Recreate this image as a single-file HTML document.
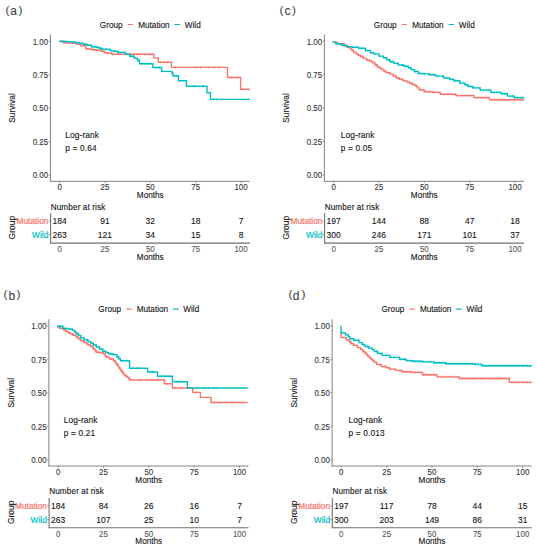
<!DOCTYPE html>
<html><head><meta charset="utf-8"><style>
html,body{margin:0;padding:0;background:#fff;width:537px;height:550px;overflow:hidden}
svg{display:block}
text{font-family:"Liberation Sans", sans-serif;stroke-width:0.1}
</style></head><body>
<svg width="537" height="550" viewBox="0 0 537 550">
<rect width="537" height="550" fill="#fff"/>
<g transform="translate(0,0)">
<text x="5.6" y="13.6" font-size="11.8" fill="#3a3a3a" stroke="#3a3a3a" style="stroke-width:0">(</text>
<text x="10.2" y="15.3" font-size="12" fill="#3a3a3a" stroke="#3a3a3a" style="stroke-width:0.05">a</text>
<text x="18.4" y="13.6" font-size="11.8" fill="#3a3a3a" stroke="#3a3a3a" style="stroke-width:0">)</text>
<text x="99.8" y="27.6" font-size="8.2" fill="#111" stroke="#111">Group</text>
<path d="M127.8,24.5H133M130.4,23.9V25.1" stroke="#F8766D" stroke-width="1.2" fill="none"/>
<text x="138.2" y="27.6" font-size="8.2" fill="#111" stroke="#111">Mutation</text>
<path d="M174.5,24.5H180.1M177.3,23.9V25.1" stroke="#00BFC4" stroke-width="1.2" fill="none"/>
<text x="184.8" y="27.6" font-size="8.2" fill="#111" stroke="#111">Wild</text>
<line x1="50.4" y1="34.5" x2="50.4" y2="181.8" stroke="#808080" stroke-width="1"/>
<line x1="50" y1="181.3" x2="250" y2="181.3" stroke="#808080" stroke-width="1"/>
<line x1="48.6" y1="41.3" x2="50.4" y2="41.3" stroke="#808080" stroke-width="0.8"/>
<text x="48.1" y="44.6" font-size="8.9" fill="#333" stroke="#333" text-anchor="end" textLength="15.37" lengthAdjust="spacingAndGlyphs">1.00</text>
<line x1="48.6" y1="74.73" x2="50.4" y2="74.73" stroke="#808080" stroke-width="0.8"/>
<text x="48.1" y="78.03" font-size="8.9" fill="#333" stroke="#333" text-anchor="end" textLength="15.37" lengthAdjust="spacingAndGlyphs">0.75</text>
<line x1="48.6" y1="108.16" x2="50.4" y2="108.16" stroke="#808080" stroke-width="0.8"/>
<text x="48.1" y="111.46" font-size="8.9" fill="#333" stroke="#333" text-anchor="end" textLength="15.37" lengthAdjust="spacingAndGlyphs">0.50</text>
<line x1="48.6" y1="141.59" x2="50.4" y2="141.59" stroke="#808080" stroke-width="0.8"/>
<text x="48.1" y="144.89" font-size="8.9" fill="#333" stroke="#333" text-anchor="end" textLength="15.37" lengthAdjust="spacingAndGlyphs">0.25</text>
<line x1="48.6" y1="175.02" x2="50.4" y2="175.02" stroke="#808080" stroke-width="0.8"/>
<text x="48.1" y="178.32" font-size="8.9" fill="#333" stroke="#333" text-anchor="end" textLength="15.37" lengthAdjust="spacingAndGlyphs">0.00</text>
<line x1="59.6" y1="181.3" x2="59.6" y2="183.2" stroke="#808080" stroke-width="0.8"/>
<text x="59.6" y="190.3" font-size="8.9" fill="#333" stroke="#333" text-anchor="middle" textLength="4.39" lengthAdjust="spacingAndGlyphs">0</text>
<line x1="104.95" y1="181.3" x2="104.95" y2="183.2" stroke="#808080" stroke-width="0.8"/>
<text x="104.95" y="190.3" font-size="8.9" fill="#333" stroke="#333" text-anchor="middle" textLength="8.78" lengthAdjust="spacingAndGlyphs">25</text>
<line x1="150.3" y1="181.3" x2="150.3" y2="183.2" stroke="#808080" stroke-width="0.8"/>
<text x="150.3" y="190.3" font-size="8.9" fill="#333" stroke="#333" text-anchor="middle" textLength="8.78" lengthAdjust="spacingAndGlyphs">50</text>
<line x1="195.65" y1="181.3" x2="195.65" y2="183.2" stroke="#808080" stroke-width="0.8"/>
<text x="195.65" y="190.3" font-size="8.9" fill="#333" stroke="#333" text-anchor="middle" textLength="8.78" lengthAdjust="spacingAndGlyphs">75</text>
<line x1="241" y1="181.3" x2="241" y2="183.2" stroke="#808080" stroke-width="0.8"/>
<text x="241" y="190.3" font-size="8.9" fill="#333" stroke="#333" text-anchor="middle" textLength="13.18" lengthAdjust="spacingAndGlyphs">100</text>
<text x="150.3" y="198.1" font-size="8.2" fill="#111" stroke="#111" text-anchor="middle">Months</text>
<text transform="translate(15.1,108) rotate(-90)" font-size="8.3" fill="#111" stroke="#111" text-anchor="middle">Survival</text>
<text x="65.3" y="138.3" font-size="8.4" fill="#111" stroke="#111" letter-spacing="0.1">Log-rank</text>
<text x="65.3" y="151.3" font-size="8.3" fill="#111" stroke="#111" letter-spacing="0.15">p = 0.64</text>
<path d="M59,41.4H63.1V42.7H67.2H69.05V43.1H70.9H73.5V43.4H76.1H76.85V44.2H77.6H80.95V45.7H84.3H85.8V48.7H87.65V49H89.5H91.75V49.8H94H96.25V50.2H98.5H101.1V51.3H103.7H104.4V52.8H107.4V53.2H110.4H111.9V54.3H153.8V57.9H158.3V62.3H171.5V67.4H227.5V77.5H240.6V89.2H250V89.2" fill="none" stroke="#F8766D" stroke-width="1.4"/>
<path d="M62,40.2V42.6M65.5,41.5V43.9M69,41.5V43.9M72.5,41.9V44.3M76,42.2V44.6M79.5,43V45.4M83,44.5V46.9M86.5,47.5V49.9M90,47.8V50.2M93.5,48.6V51M97,49V51.4M100.5,49V51.4M104,50.1V52.5M107.5,52V54.4M112.4,53.1V55.5M118.3,53.1V55.5M121.5,53.1V55.5M124.8,53.1V55.5M130.6,53.1V55.5M133.9,53.1V55.5M137.2,53.1V55.5M139.1,53.1V55.5M141.7,53.1V55.5M145,53.1V55.5M150.2,53.1V55.5M160.6,61.1V63.5M163.9,61.1V63.5M167.8,61.1V63.5M175,66.2V68.6M195.2,66.2V68.6M197.7,66.2V68.6M200.7,66.2V68.6M208.9,66.2V68.6M214.4,66.2V68.6M219.4,66.2V68.6M231.7,76.3V78.7M237.4,76.3V78.7" fill="none" stroke="#F8766D" stroke-width="0.75"/>
<path d="M59,41.4H62.35V41.4H65.7H66.8V41.8H67.9H70.5V42H73.1H75.35V42.6H77.6H79.45V43.4H81.3H83.55V44.2H85.8H87.3V45.3H88.8H91.4V46.8H94H95.85V47.2H97.7H98.85V48.3H100H101.85V49.1H103.7H106.3V49.4H108.9H110.4V50.9H111.9H114.1V51.3H116.3H117.8V52.4H125.5V53.9H126.9V54.3H128.3H129.8V56.2H134.3V58.4H137.6V60.5H139.5V63.8H152.8V67.5H161.6V71.4H171.8V73H173V75.8H178.5V80.7H186.5V86.3H207V92.7H210.5V99.4H250V99.4" fill="none" stroke="#00BFC4" stroke-width="1.4"/>
<path d="M61,40.2V42.6M64,40.2V42.6M67,40.6V43M70,40.6V43M73,40.8V43.2M76,41.4V43.8M79,41.4V43.8M82,42.2V44.6M85,43V45.4M88,44.1V46.5M91,44.1V46.5M94,45.6V48M97,46V48.4M100,47.1V49.5M103,47.9V50.3M106,47.9V50.3M109,48.2V50.6M112,49.7V52.1M115,50.1V52.5M118,51.2V53.6M121,51.2V53.6M124,51.2V53.6M127,53.1V55.5M130,55V57.4M133,55V57.4M136,57.2V59.6M139,59.3V61.7M141.7,62.6V65M145,62.6V65M148.2,62.6V65M151.5,62.6V65M156,66.3V68.7M159.3,66.3V68.7M173.4,74.6V77M177,74.6V77M194.3,85.1V87.5M203.5,85.1V87.5M213.6,98.2V100.6M216.6,98.2V100.6" fill="none" stroke="#00BFC4" stroke-width="0.75"/>
<text x="50.7" y="209.8" font-size="8.2" fill="#111" stroke="#111" letter-spacing="0.11">Number at risk</text>
<line x1="50.6" y1="213.2" x2="50.6" y2="243.5" stroke="#707070" stroke-width="1.1"/>
<line x1="50.2" y1="243.1" x2="250" y2="243.1" stroke="#707070" stroke-width="1.1"/>
<line x1="48.8" y1="221.2" x2="50.6" y2="221.2" stroke="#777" stroke-width="0.8"/>
<line x1="48.8" y1="234.9" x2="50.6" y2="234.9" stroke="#777" stroke-width="0.8"/>
<text x="48.4" y="224.4" font-size="8.3" fill="#F8766D" stroke="#F8766D" style="stroke-width:0.22" text-anchor="end">Mutation</text>
<text x="48.4" y="238.1" font-size="8.4" fill="#00BFC4" stroke="#00BFC4" style="stroke-width:0.22" text-anchor="end">Wild</text>
<text x="59.6" y="224.4" font-size="8.5" fill="#111" stroke="#111" text-anchor="middle">184</text>
<text x="59.6" y="238.1" font-size="8.5" fill="#111" stroke="#111" text-anchor="middle">263</text>
<text x="59.6" y="252" font-size="8.9" fill="#555" stroke="#555" text-anchor="middle" textLength="4.39" lengthAdjust="spacingAndGlyphs">0</text>
<text x="104.95" y="224.4" font-size="8.5" fill="#111" stroke="#111" text-anchor="middle">91</text>
<text x="104.95" y="238.1" font-size="8.5" fill="#111" stroke="#111" text-anchor="middle">121</text>
<text x="104.95" y="252" font-size="8.9" fill="#555" stroke="#555" text-anchor="middle" textLength="8.78" lengthAdjust="spacingAndGlyphs">25</text>
<text x="150.3" y="224.4" font-size="8.5" fill="#111" stroke="#111" text-anchor="middle">32</text>
<text x="150.3" y="238.1" font-size="8.5" fill="#111" stroke="#111" text-anchor="middle">34</text>
<text x="150.3" y="252" font-size="8.9" fill="#555" stroke="#555" text-anchor="middle" textLength="8.78" lengthAdjust="spacingAndGlyphs">50</text>
<text x="195.65" y="224.4" font-size="8.5" fill="#111" stroke="#111" text-anchor="middle">18</text>
<text x="195.65" y="238.1" font-size="8.5" fill="#111" stroke="#111" text-anchor="middle">15</text>
<text x="195.65" y="252" font-size="8.9" fill="#555" stroke="#555" text-anchor="middle" textLength="8.78" lengthAdjust="spacingAndGlyphs">75</text>
<text x="241" y="224.4" font-size="8.5" fill="#111" stroke="#111" text-anchor="middle">7</text>
<text x="241" y="238.1" font-size="8.5" fill="#111" stroke="#111" text-anchor="middle">8</text>
<text x="241" y="252" font-size="8.9" fill="#555" stroke="#555" text-anchor="middle" textLength="13.18" lengthAdjust="spacingAndGlyphs">100</text>
<text x="150.3" y="259.8" font-size="8.2" fill="#111" stroke="#111" text-anchor="middle">Months</text>
<text transform="translate(15.2,227.6) rotate(-90)" font-size="8.5" fill="#111" stroke="#111" text-anchor="middle">Group</text>
</g>
<g transform="translate(274,0)">
<text x="5.6" y="13.6" font-size="11.8" fill="#3a3a3a" stroke="#3a3a3a" style="stroke-width:0">(</text>
<text x="10.5" y="15.3" font-size="12" fill="#3a3a3a" stroke="#3a3a3a" style="stroke-width:0.05">c</text>
<text x="18.1" y="13.6" font-size="11.8" fill="#3a3a3a" stroke="#3a3a3a" style="stroke-width:0">)</text>
<text x="99.8" y="27.6" font-size="8.2" fill="#111" stroke="#111">Group</text>
<path d="M127.8,24.5H133M130.4,23.9V25.1" stroke="#F8766D" stroke-width="1.2" fill="none"/>
<text x="138.2" y="27.6" font-size="8.2" fill="#111" stroke="#111">Mutation</text>
<path d="M174.5,24.5H180.1M177.3,23.9V25.1" stroke="#00BFC4" stroke-width="1.2" fill="none"/>
<text x="184.8" y="27.6" font-size="8.2" fill="#111" stroke="#111">Wild</text>
<line x1="50.4" y1="34.5" x2="50.4" y2="181.8" stroke="#808080" stroke-width="1"/>
<line x1="50" y1="181.3" x2="250" y2="181.3" stroke="#808080" stroke-width="1"/>
<line x1="48.6" y1="41.3" x2="50.4" y2="41.3" stroke="#808080" stroke-width="0.8"/>
<text x="48.1" y="44.6" font-size="8.9" fill="#333" stroke="#333" text-anchor="end" textLength="15.37" lengthAdjust="spacingAndGlyphs">1.00</text>
<line x1="48.6" y1="74.73" x2="50.4" y2="74.73" stroke="#808080" stroke-width="0.8"/>
<text x="48.1" y="78.03" font-size="8.9" fill="#333" stroke="#333" text-anchor="end" textLength="15.37" lengthAdjust="spacingAndGlyphs">0.75</text>
<line x1="48.6" y1="108.16" x2="50.4" y2="108.16" stroke="#808080" stroke-width="0.8"/>
<text x="48.1" y="111.46" font-size="8.9" fill="#333" stroke="#333" text-anchor="end" textLength="15.37" lengthAdjust="spacingAndGlyphs">0.50</text>
<line x1="48.6" y1="141.59" x2="50.4" y2="141.59" stroke="#808080" stroke-width="0.8"/>
<text x="48.1" y="144.89" font-size="8.9" fill="#333" stroke="#333" text-anchor="end" textLength="15.37" lengthAdjust="spacingAndGlyphs">0.25</text>
<line x1="48.6" y1="175.02" x2="50.4" y2="175.02" stroke="#808080" stroke-width="0.8"/>
<text x="48.1" y="178.32" font-size="8.9" fill="#333" stroke="#333" text-anchor="end" textLength="15.37" lengthAdjust="spacingAndGlyphs">0.00</text>
<line x1="59.6" y1="181.3" x2="59.6" y2="183.2" stroke="#808080" stroke-width="0.8"/>
<text x="59.6" y="190.3" font-size="8.9" fill="#333" stroke="#333" text-anchor="middle" textLength="4.39" lengthAdjust="spacingAndGlyphs">0</text>
<line x1="104.95" y1="181.3" x2="104.95" y2="183.2" stroke="#808080" stroke-width="0.8"/>
<text x="104.95" y="190.3" font-size="8.9" fill="#333" stroke="#333" text-anchor="middle" textLength="8.78" lengthAdjust="spacingAndGlyphs">25</text>
<line x1="150.3" y1="181.3" x2="150.3" y2="183.2" stroke="#808080" stroke-width="0.8"/>
<text x="150.3" y="190.3" font-size="8.9" fill="#333" stroke="#333" text-anchor="middle" textLength="8.78" lengthAdjust="spacingAndGlyphs">50</text>
<line x1="195.65" y1="181.3" x2="195.65" y2="183.2" stroke="#808080" stroke-width="0.8"/>
<text x="195.65" y="190.3" font-size="8.9" fill="#333" stroke="#333" text-anchor="middle" textLength="8.78" lengthAdjust="spacingAndGlyphs">75</text>
<line x1="241" y1="181.3" x2="241" y2="183.2" stroke="#808080" stroke-width="0.8"/>
<text x="241" y="190.3" font-size="8.9" fill="#333" stroke="#333" text-anchor="middle" textLength="13.18" lengthAdjust="spacingAndGlyphs">100</text>
<text x="150.3" y="198.1" font-size="8.2" fill="#111" stroke="#111" text-anchor="middle">Months</text>
<text transform="translate(15.1,108) rotate(-90)" font-size="8.3" fill="#111" stroke="#111" text-anchor="middle">Survival</text>
<text x="66.8" y="138.3" font-size="8.4" fill="#111" stroke="#111" letter-spacing="0.1">Log-rank</text>
<text x="66.8" y="151.3" font-size="8.3" fill="#111" stroke="#111" letter-spacing="0.15">p = 0.05</text>
<path d="M58.5,42.1H63.5V43.8H68.5H70.17V45.5H73.52V47.2H75.2H76.05V48.85H77.75V50.5H78.6H79.7V52.2H81.9V53.9H83H84.12V55.3H86.38V56.7H87.5H89.17V58.35H92.52V60H94.2H95.6V61.4H98.4V62.8H99.8H100.93V64.75H103.18V66.7H104.3H105.4V68.1H107.6V69.5H108.7H109.85V71.5H111H112.62V72.8H115.88V74.1H117.5H119.12V76.05H122.38V78H124H125.65V79.3H128.95V80.6H130.6H132.23V81.9H135.48V83.2H137.1H138.4V84.55H141V85.9H142.3H143.28V87.85H145.22V89.8H146.2H150.1V91.7H154H158.6V92.4H163.2H166.45V94.3H169.7H182V95.6H199.8V97.6H215.5V99.8H249.8V99.8" fill="none" stroke="#F8766D" stroke-width="1.4"/>
<path d="M66,42.6V45M70.5,44.3V46.7M75,46V48.4M79.5,49.3V51.7M84,52.7V55.1M88.5,55.5V57.9M93,58.8V61.2M97.5,60.2V62.6M102,63.55V65.95M106.5,66.9V69.3M111,70.3V72.7M115.5,71.6V74M120,74.85V77.25M124.5,76.8V79.2M129,79.4V81.8M133.5,80.7V83.1M138,82V84.4M142.5,84.7V87.1M147,88.6V91M151.5,90.5V92.9M156,90.5V92.9M160.5,91.2V93.6M165,91.2V93.6M169.5,93.1V95.5M174,93.1V95.5M176,93.1V95.5M178.6,93.1V95.5M181.2,93.1V95.5M183.8,94.4V96.8M186.4,94.4V96.8M189,94.4V96.8M191.6,94.4V96.8M194.2,94.4V96.8M196.8,94.4V96.8M199.4,94.4V96.8M202,96.4V98.8M204.6,96.4V98.8M207.2,96.4V98.8M209.8,96.4V98.8M212.4,96.4V98.8M215,96.4V98.8M217.6,98.6V101M220.2,98.6V101M222.8,98.6V101M225.4,98.6V101M228,98.6V101M230.6,98.6V101M233.2,98.6V101M235.8,98.6V101M238.4,98.6V101M241,98.6V101M243.6,98.6V101M246.2,98.6V101M248.8,98.6V101" fill="none" stroke="#F8766D" stroke-width="0.75"/>
<path d="M58.5,42.1H61.85V43.8H65.2H67.42V45.2H71.88V46.6H74.1H78V47.2H81.9H84.7V48.3H87.5H91.4V50.5H95.3H96.45V52.8H97.6H99.8V53.9H102H104.8V56.1H107.6H109.3V57.8H111H112.62V59.75H115.88V61.7H117.5H119.78V63.35H124.33V65H126.6H129.9V66.3H133.2H134.5V67.95H137.1V69.6H138.4H140.35V71.55H144.25V73.5H146.2H149.45V73.9H152.7H155.3V74.8H157.9H161.85V76.1H165.8H169.7V78H173.6H175.7V79.35H179.9V80.7H182H185.7V83.1H189.4H190.9V84.75H193.9V86.4H195.4H198.75V87.9H202.1H206.2V90.1H210.3H217V92.4H223.7H227.4V93.8H231.1H233.35V96.1H235.6H240.1V97.6H244.6H249.8V98.2" fill="none" stroke="#00BFC4" stroke-width="1.4"/>
<path d="M65,42.6V45M69.5,44V46.4M74,45.4V47.8M78.5,46V48.4M83,46V48.4M87.5,47.1V49.5M92,49.3V51.7M96.5,51.6V54M101,52.7V55.1M105.5,54.9V57.3M110,56.6V59M114.5,58.55V60.95M119,60.5V62.9M123.5,62.15V64.55M128,63.8V66.2M132.5,65.1V67.5M137,66.75V69.15M141.5,70.35V72.75M146,72.3V74.7M150.5,72.7V75.1M155,72.7V75.1M159.5,73.6V76M164,74.9V77.3M168.5,74.9V77.3M173,76.8V79.2M176,78.15V80.55M178.6,78.15V80.55M181.2,79.5V81.9M183.8,79.5V81.9M186.4,81.9V84.3M189,81.9V84.3M191.6,83.55V85.95M194.2,85.2V87.6M196.8,85.2V87.6M199.4,86.7V89.1M202,86.7V89.1M204.6,86.7V89.1M207.2,88.9V91.3M209.8,88.9V91.3M212.4,88.9V91.3M215,88.9V91.3M217.6,91.2V93.6M220.2,91.2V93.6M222.8,91.2V93.6M225.4,91.2V93.6M228,92.6V95M230.6,92.6V95M233.2,92.6V95M235.8,94.9V97.3M238.4,94.9V97.3M241,96.4V98.8M243.6,96.4V98.8M246.2,96.4V98.8M248.8,96.4V98.8" fill="none" stroke="#00BFC4" stroke-width="0.75"/>
<text x="50.7" y="209.8" font-size="8.2" fill="#111" stroke="#111" letter-spacing="0.11">Number at risk</text>
<line x1="50.6" y1="213.2" x2="50.6" y2="243.5" stroke="#707070" stroke-width="1.1"/>
<line x1="50.2" y1="243.1" x2="250" y2="243.1" stroke="#707070" stroke-width="1.1"/>
<line x1="48.8" y1="221.2" x2="50.6" y2="221.2" stroke="#777" stroke-width="0.8"/>
<line x1="48.8" y1="234.9" x2="50.6" y2="234.9" stroke="#777" stroke-width="0.8"/>
<text x="48.4" y="224.4" font-size="8.3" fill="#F8766D" stroke="#F8766D" style="stroke-width:0.22" text-anchor="end">Mutation</text>
<text x="48.4" y="238.1" font-size="8.4" fill="#00BFC4" stroke="#00BFC4" style="stroke-width:0.22" text-anchor="end">Wild</text>
<text x="59.6" y="224.4" font-size="8.5" fill="#111" stroke="#111" text-anchor="middle">197</text>
<text x="59.6" y="238.1" font-size="8.5" fill="#111" stroke="#111" text-anchor="middle">300</text>
<text x="59.6" y="252" font-size="8.9" fill="#555" stroke="#555" text-anchor="middle" textLength="4.39" lengthAdjust="spacingAndGlyphs">0</text>
<text x="104.95" y="224.4" font-size="8.5" fill="#111" stroke="#111" text-anchor="middle">144</text>
<text x="104.95" y="238.1" font-size="8.5" fill="#111" stroke="#111" text-anchor="middle">246</text>
<text x="104.95" y="252" font-size="8.9" fill="#555" stroke="#555" text-anchor="middle" textLength="8.78" lengthAdjust="spacingAndGlyphs">25</text>
<text x="150.3" y="224.4" font-size="8.5" fill="#111" stroke="#111" text-anchor="middle">88</text>
<text x="150.3" y="238.1" font-size="8.5" fill="#111" stroke="#111" text-anchor="middle">171</text>
<text x="150.3" y="252" font-size="8.9" fill="#555" stroke="#555" text-anchor="middle" textLength="8.78" lengthAdjust="spacingAndGlyphs">50</text>
<text x="195.65" y="224.4" font-size="8.5" fill="#111" stroke="#111" text-anchor="middle">47</text>
<text x="195.65" y="238.1" font-size="8.5" fill="#111" stroke="#111" text-anchor="middle">101</text>
<text x="195.65" y="252" font-size="8.9" fill="#555" stroke="#555" text-anchor="middle" textLength="8.78" lengthAdjust="spacingAndGlyphs">75</text>
<text x="241" y="224.4" font-size="8.5" fill="#111" stroke="#111" text-anchor="middle">18</text>
<text x="241" y="238.1" font-size="8.5" fill="#111" stroke="#111" text-anchor="middle">37</text>
<text x="241" y="252" font-size="8.9" fill="#555" stroke="#555" text-anchor="middle" textLength="13.18" lengthAdjust="spacingAndGlyphs">100</text>
<text x="150.3" y="259.8" font-size="8.2" fill="#111" stroke="#111" text-anchor="middle">Months</text>
<text transform="translate(15.2,227.6) rotate(-90)" font-size="8.5" fill="#111" stroke="#111" text-anchor="middle">Group</text>
</g>
<g transform="translate(-1.5,284.7)">
<text x="5" y="13.6" font-size="11.8" fill="#3a3a3a" stroke="#3a3a3a" style="stroke-width:0">(</text>
<text x="10" y="15.3" font-size="12" fill="#3a3a3a" stroke="#3a3a3a" style="stroke-width:0.05">b</text>
<text x="18.1" y="13.6" font-size="11.8" fill="#3a3a3a" stroke="#3a3a3a" style="stroke-width:0">)</text>
<text x="99.8" y="27.6" font-size="8.2" fill="#111" stroke="#111">Group</text>
<path d="M127.8,24.5H133M130.4,23.9V25.1" stroke="#F8766D" stroke-width="1.2" fill="none"/>
<text x="138.2" y="27.6" font-size="8.2" fill="#111" stroke="#111">Mutation</text>
<path d="M174.5,24.5H180.1M177.3,23.9V25.1" stroke="#00BFC4" stroke-width="1.2" fill="none"/>
<text x="184.8" y="27.6" font-size="8.2" fill="#111" stroke="#111">Wild</text>
<line x1="50.4" y1="34.5" x2="50.4" y2="181.8" stroke="#808080" stroke-width="1"/>
<line x1="50" y1="181.3" x2="250" y2="181.3" stroke="#808080" stroke-width="1"/>
<line x1="48.6" y1="41.3" x2="50.4" y2="41.3" stroke="#808080" stroke-width="0.8"/>
<text x="48.1" y="44.6" font-size="8.9" fill="#333" stroke="#333" text-anchor="end" textLength="15.37" lengthAdjust="spacingAndGlyphs">1.00</text>
<line x1="48.6" y1="74.73" x2="50.4" y2="74.73" stroke="#808080" stroke-width="0.8"/>
<text x="48.1" y="78.03" font-size="8.9" fill="#333" stroke="#333" text-anchor="end" textLength="15.37" lengthAdjust="spacingAndGlyphs">0.75</text>
<line x1="48.6" y1="108.16" x2="50.4" y2="108.16" stroke="#808080" stroke-width="0.8"/>
<text x="48.1" y="111.46" font-size="8.9" fill="#333" stroke="#333" text-anchor="end" textLength="15.37" lengthAdjust="spacingAndGlyphs">0.50</text>
<line x1="48.6" y1="141.59" x2="50.4" y2="141.59" stroke="#808080" stroke-width="0.8"/>
<text x="48.1" y="144.89" font-size="8.9" fill="#333" stroke="#333" text-anchor="end" textLength="15.37" lengthAdjust="spacingAndGlyphs">0.25</text>
<line x1="48.6" y1="175.02" x2="50.4" y2="175.02" stroke="#808080" stroke-width="0.8"/>
<text x="48.1" y="178.32" font-size="8.9" fill="#333" stroke="#333" text-anchor="end" textLength="15.37" lengthAdjust="spacingAndGlyphs">0.00</text>
<line x1="59.6" y1="181.3" x2="59.6" y2="183.2" stroke="#808080" stroke-width="0.8"/>
<text x="59.6" y="190.3" font-size="8.9" fill="#333" stroke="#333" text-anchor="middle" textLength="4.39" lengthAdjust="spacingAndGlyphs">0</text>
<line x1="104.95" y1="181.3" x2="104.95" y2="183.2" stroke="#808080" stroke-width="0.8"/>
<text x="104.95" y="190.3" font-size="8.9" fill="#333" stroke="#333" text-anchor="middle" textLength="8.78" lengthAdjust="spacingAndGlyphs">25</text>
<line x1="150.3" y1="181.3" x2="150.3" y2="183.2" stroke="#808080" stroke-width="0.8"/>
<text x="150.3" y="190.3" font-size="8.9" fill="#333" stroke="#333" text-anchor="middle" textLength="8.78" lengthAdjust="spacingAndGlyphs">50</text>
<line x1="195.65" y1="181.3" x2="195.65" y2="183.2" stroke="#808080" stroke-width="0.8"/>
<text x="195.65" y="190.3" font-size="8.9" fill="#333" stroke="#333" text-anchor="middle" textLength="8.78" lengthAdjust="spacingAndGlyphs">75</text>
<line x1="241" y1="181.3" x2="241" y2="183.2" stroke="#808080" stroke-width="0.8"/>
<text x="241" y="190.3" font-size="8.9" fill="#333" stroke="#333" text-anchor="middle" textLength="13.18" lengthAdjust="spacingAndGlyphs">100</text>
<text x="150.3" y="198.1" font-size="8.2" fill="#111" stroke="#111" text-anchor="middle">Months</text>
<text transform="translate(15.1,108) rotate(-90)" font-size="8.3" fill="#111" stroke="#111" text-anchor="middle">Survival</text>
<text x="65.3" y="138.3" font-size="8.4" fill="#111" stroke="#111" letter-spacing="0.1">Log-rank</text>
<text x="65.3" y="151.3" font-size="8.3" fill="#111" stroke="#111" letter-spacing="0.15">p = 0.21</text>
<path d="M58.5,42.4H61.1V43.5H63.7H64.83V45H67.08V46.5H68.2H69.3V47.8H71.5V49.1H72.6H74.5V50.6H76.4H77.33V52.05H79.17V53.5H80.1H81.6V55.8H83.1H84.95V57.6H86.8H87.72V58.95H89.58V60.3H90.5H92.1V61.5H93.7H94.26V63.03H95.39V64.55H96.51V66.08H97.64V67.6H98.2H101V67.9H103.8H104.9V69.3H106H106.58V70.95H107.72V72.6H108.3H111.05V74.3H113.8H114.95V76H116.1H116.65V77.5H117.75V79H118.85V80.5H119.4H119.83V81.9H120.67V83.3H121.53V84.7H122.38V86.1H122.8H123.38V87.5H124.55V88.9H125.72V90.3H126.3H127.1V91.55H128.7V92.8H129.5H130.25V94.05H131.75V95.3H132.5H165.9V99.1H173.9V103.3H194.2V107.7H201.9V112.7H212.5V117.8H249.1V117.8" fill="none" stroke="#F8766D" stroke-width="1.4"/>
<path d="M61.5,42.3V44.7M64.5,42.3V44.7M67.5,45.3V47.7M70.5,46.6V49M73.5,47.9V50.3M76.5,49.4V51.8M79.5,52.3V54.7M82.5,54.6V57M85.5,56.4V58.8M88.5,57.75V60.15M91.5,59.1V61.5M94.5,61.83V64.23M97.5,64.88V67.28M100.5,66.4V68.8M103.5,66.7V69.1M106.5,68.1V70.5M109.5,71.4V73.8M112.5,73.1V75.5M115.5,74.8V77.2M118.5,77.8V80.2M121.5,82.1V84.5M124.5,86.3V88.7M127.5,90.35V92.75M130.5,92.85V95.25M141.5,94.1V96.5M147.5,94.1V96.5M153.5,94.1V96.5M159.5,94.1V96.5M168.5,97.9V100.3M176.5,102.1V104.5M182.5,102.1V104.5M188.5,102.1V104.5M197.5,106.5V108.9M215.5,116.6V119M221.5,116.6V119M227.5,116.6V119M233.5,116.6V119" fill="none" stroke="#F8766D" stroke-width="0.75"/>
<path d="M58.5,41.3H60.7V41.6H62.9H64.4V43.5H65.9H67.4V43.9H68.9H70.75V44.6H72.6H74.1V45.7H75.6H76.15V47H77.25V48.3H77.8H78.55V49.6H80.05V50.9H80.8H82.3V53.2H83.8H85.65V55H87.5H89.4V56.9H91.3H92.47V58.6H94.83V60.3H96H97.67V62.3H101.03V64.3H102.7H104.35V66.5H106H107.4V67.9H110.2V69.3H111.6H114.4V69.9H117.2H118.3V72.1H119.4H120.25V74.05H121.95V76H122.8H131.1V83.6H149.1V87.3H159V91.6H173.9V97.1H188.9V103.3H249.1V103.3" fill="none" stroke="#00BFC4" stroke-width="1.4"/>
<path d="M61.5,40.4V42.8M64.5,42.3V44.7M67.5,42.7V45.1M70.5,42.7V45.1M73.5,43.4V45.8M76.5,45.8V48.2M79.5,48.4V50.8M82.5,52V54.4M85.5,52V54.4M88.5,53.8V56.2M91.5,55.7V58.1M94.5,57.4V59.8M97.5,59.1V61.5M100.5,61.1V63.5M103.5,63.1V65.5M106.5,65.3V67.7M109.5,66.7V69.1M112.5,68.1V70.5M115.5,68.7V71.1M118.5,70.9V73.3M121.5,72.85V75.25M124.5,74.8V77.2M127.5,74.8V77.2M134.5,82.4V84.8M138.5,82.4V84.8M151.5,86.1V88.5M154.5,86.1V88.5M162.5,90.4V92.8M167.5,90.4V92.8M171.5,90.4V92.8M178.5,95.9V98.3M181.5,95.9V98.3M184.5,95.9V98.3M198.5,102.1V104.5M205.5,102.1V104.5M210.5,102.1V104.5M214.5,102.1V104.5M217.5,102.1V104.5" fill="none" stroke="#00BFC4" stroke-width="0.75"/>
<text x="50.7" y="209.8" font-size="8.2" fill="#111" stroke="#111" letter-spacing="0.11">Number at risk</text>
<line x1="50.6" y1="213.2" x2="50.6" y2="243.5" stroke="#707070" stroke-width="1.1"/>
<line x1="50.2" y1="243.1" x2="250" y2="243.1" stroke="#707070" stroke-width="1.1"/>
<line x1="48.8" y1="221.2" x2="50.6" y2="221.2" stroke="#777" stroke-width="0.8"/>
<line x1="48.8" y1="234.9" x2="50.6" y2="234.9" stroke="#777" stroke-width="0.8"/>
<text x="48.4" y="224.4" font-size="8.3" fill="#F8766D" stroke="#F8766D" style="stroke-width:0.22" text-anchor="end">Mutation</text>
<text x="48.4" y="238.1" font-size="8.4" fill="#00BFC4" stroke="#00BFC4" style="stroke-width:0.22" text-anchor="end">Wild</text>
<text x="59.6" y="224.4" font-size="8.5" fill="#111" stroke="#111" text-anchor="middle">184</text>
<text x="59.6" y="238.1" font-size="8.5" fill="#111" stroke="#111" text-anchor="middle">263</text>
<text x="59.6" y="252" font-size="8.9" fill="#555" stroke="#555" text-anchor="middle" textLength="4.39" lengthAdjust="spacingAndGlyphs">0</text>
<text x="104.95" y="224.4" font-size="8.5" fill="#111" stroke="#111" text-anchor="middle">84</text>
<text x="104.95" y="238.1" font-size="8.5" fill="#111" stroke="#111" text-anchor="middle">107</text>
<text x="104.95" y="252" font-size="8.9" fill="#555" stroke="#555" text-anchor="middle" textLength="8.78" lengthAdjust="spacingAndGlyphs">25</text>
<text x="150.3" y="224.4" font-size="8.5" fill="#111" stroke="#111" text-anchor="middle">26</text>
<text x="150.3" y="238.1" font-size="8.5" fill="#111" stroke="#111" text-anchor="middle">25</text>
<text x="150.3" y="252" font-size="8.9" fill="#555" stroke="#555" text-anchor="middle" textLength="8.78" lengthAdjust="spacingAndGlyphs">50</text>
<text x="195.65" y="224.4" font-size="8.5" fill="#111" stroke="#111" text-anchor="middle">16</text>
<text x="195.65" y="238.1" font-size="8.5" fill="#111" stroke="#111" text-anchor="middle">10</text>
<text x="195.65" y="252" font-size="8.9" fill="#555" stroke="#555" text-anchor="middle" textLength="8.78" lengthAdjust="spacingAndGlyphs">75</text>
<text x="241" y="224.4" font-size="8.5" fill="#111" stroke="#111" text-anchor="middle">7</text>
<text x="241" y="238.1" font-size="8.5" fill="#111" stroke="#111" text-anchor="middle">7</text>
<text x="241" y="252" font-size="8.9" fill="#555" stroke="#555" text-anchor="middle" textLength="13.18" lengthAdjust="spacingAndGlyphs">100</text>
<text x="150.3" y="259.8" font-size="8.2" fill="#111" stroke="#111" text-anchor="middle">Months</text>
<text transform="translate(15.2,227.6) rotate(-90)" font-size="8.5" fill="#111" stroke="#111" text-anchor="middle">Group</text>
</g>
<g transform="translate(281.7,284.7)">
<text x="6.8" y="13.6" font-size="11.8" fill="#3a3a3a" stroke="#3a3a3a" style="stroke-width:0">(</text>
<text x="11" y="15.3" font-size="12" fill="#3a3a3a" stroke="#3a3a3a" style="stroke-width:0.05">d</text>
<text x="19.7" y="13.6" font-size="11.8" fill="#3a3a3a" stroke="#3a3a3a" style="stroke-width:0">)</text>
<text x="99.8" y="27.6" font-size="8.2" fill="#111" stroke="#111">Group</text>
<path d="M127.8,24.5H133M130.4,23.9V25.1" stroke="#F8766D" stroke-width="1.2" fill="none"/>
<text x="138.2" y="27.6" font-size="8.2" fill="#111" stroke="#111">Mutation</text>
<path d="M174.5,24.5H180.1M177.3,23.9V25.1" stroke="#00BFC4" stroke-width="1.2" fill="none"/>
<text x="184.8" y="27.6" font-size="8.2" fill="#111" stroke="#111">Wild</text>
<line x1="50.5" y1="34.5" x2="50.5" y2="181.8" stroke="#b0b0b0" stroke-width="1.6"/>
<line x1="50" y1="181.3" x2="250" y2="181.3" stroke="#808080" stroke-width="1"/>
<line x1="48.6" y1="41.3" x2="50.4" y2="41.3" stroke="#808080" stroke-width="0.8"/>
<text x="48.1" y="44.6" font-size="8.9" fill="#333" stroke="#333" text-anchor="end" textLength="15.37" lengthAdjust="spacingAndGlyphs">1.00</text>
<line x1="48.6" y1="74.73" x2="50.4" y2="74.73" stroke="#808080" stroke-width="0.8"/>
<text x="48.1" y="78.03" font-size="8.9" fill="#333" stroke="#333" text-anchor="end" textLength="15.37" lengthAdjust="spacingAndGlyphs">0.75</text>
<line x1="48.6" y1="108.16" x2="50.4" y2="108.16" stroke="#808080" stroke-width="0.8"/>
<text x="48.1" y="111.46" font-size="8.9" fill="#333" stroke="#333" text-anchor="end" textLength="15.37" lengthAdjust="spacingAndGlyphs">0.50</text>
<line x1="48.6" y1="141.59" x2="50.4" y2="141.59" stroke="#808080" stroke-width="0.8"/>
<text x="48.1" y="144.89" font-size="8.9" fill="#333" stroke="#333" text-anchor="end" textLength="15.37" lengthAdjust="spacingAndGlyphs">0.25</text>
<line x1="48.6" y1="175.02" x2="50.4" y2="175.02" stroke="#808080" stroke-width="0.8"/>
<text x="48.1" y="178.32" font-size="8.9" fill="#333" stroke="#333" text-anchor="end" textLength="15.37" lengthAdjust="spacingAndGlyphs">0.00</text>
<line x1="59.6" y1="181.3" x2="59.6" y2="183.2" stroke="#808080" stroke-width="0.8"/>
<text x="59.6" y="190.3" font-size="8.9" fill="#333" stroke="#333" text-anchor="middle" textLength="4.39" lengthAdjust="spacingAndGlyphs">0</text>
<line x1="104.95" y1="181.3" x2="104.95" y2="183.2" stroke="#808080" stroke-width="0.8"/>
<text x="104.95" y="190.3" font-size="8.9" fill="#333" stroke="#333" text-anchor="middle" textLength="8.78" lengthAdjust="spacingAndGlyphs">25</text>
<line x1="150.3" y1="181.3" x2="150.3" y2="183.2" stroke="#808080" stroke-width="0.8"/>
<text x="150.3" y="190.3" font-size="8.9" fill="#333" stroke="#333" text-anchor="middle" textLength="8.78" lengthAdjust="spacingAndGlyphs">50</text>
<line x1="195.65" y1="181.3" x2="195.65" y2="183.2" stroke="#808080" stroke-width="0.8"/>
<text x="195.65" y="190.3" font-size="8.9" fill="#333" stroke="#333" text-anchor="middle" textLength="8.78" lengthAdjust="spacingAndGlyphs">75</text>
<line x1="241" y1="181.3" x2="241" y2="183.2" stroke="#808080" stroke-width="0.8"/>
<text x="241" y="190.3" font-size="8.9" fill="#333" stroke="#333" text-anchor="middle" textLength="13.18" lengthAdjust="spacingAndGlyphs">100</text>
<text x="150.3" y="198.1" font-size="8.2" fill="#111" stroke="#111" text-anchor="middle">Months</text>
<text transform="translate(15.1,108) rotate(-90)" font-size="8.3" fill="#111" stroke="#111" text-anchor="middle">Survival</text>
<text x="66.8" y="138.3" font-size="8.4" fill="#111" stroke="#111" letter-spacing="0.1">Log-rank</text>
<text x="66.8" y="151.3" font-size="8.3" fill="#111" stroke="#111" letter-spacing="0.15">p = 0.013</text>
<path d="M59.4,47.8H59.4V52.9H60.8V52.9H62.2H64.45V55.1H66.7H67.55V57.05H69.25V59H70.1H71.75V60.7H73.4H75.65V62.9H77.9H79V64.85H81.2V66.8H82.3H83.15V68.5H84.85V70.2H85.7H86.4V71.75H87.8V73.3H88.5H89.37V74.83H91.1V76.37H92.83V77.9H93.7H95V79.9H96.3H99.6V81.8H102.9H104.53V83.1H107.78V84.4H109.4H113.95V85.7H118.5H120.45V87H122.4H128.95V87.7H135.5H140.7V90H155.1V92.2H177.7V93.8H227.6V97.7H250.1V97.7" fill="none" stroke="#F8766D" stroke-width="1.4"/>
<path d="M63.3,51.7V54.1M67.8,55.85V58.25M72.3,59.5V61.9M76.8,61.7V64.1M81.3,65.6V68M85.8,69V71.4M90.3,73.63V76.03M94.8,76.7V79.1M99.3,78.7V81.1M103.8,80.6V83M108.3,83.2V85.6M112.8,83.2V85.6M118.3,84.5V86.9M120.9,85.8V88.2M123.5,85.8V88.2M126.1,85.8V88.2M128.7,85.8V88.2M131.3,86.5V88.9M133.9,86.5V88.9M136.5,86.5V88.9M139.1,86.5V88.9M141.7,88.8V91.2M144.3,88.8V91.2M146.9,88.8V91.2M149.5,88.8V91.2M152.1,88.8V91.2M154.7,88.8V91.2M157.3,91V93.4M159.9,91V93.4M162.5,91V93.4M165.1,91V93.4M167.7,91V93.4M170.3,91V93.4M172.9,91V93.4M175.5,91V93.4M178.1,92.6V95M180.7,92.6V95M183.3,92.6V95M185.9,92.6V95M188.5,92.6V95M191.1,92.6V95M193.7,92.6V95M196.3,92.6V95M198.9,92.6V95M201.5,92.6V95M204.1,92.6V95M206.7,92.6V95M209.3,92.6V95M211.9,92.6V95M214.5,92.6V95M217.1,92.6V95M219.7,92.6V95M222.3,92.6V95M224.9,92.6V95M227.5,92.6V95M230.1,96.5V98.9M232.7,96.5V98.9M235.3,96.5V98.9M237.9,96.5V98.9M240.5,96.5V98.9M243.1,96.5V98.9M245.7,96.5V98.9M248.3,96.5V98.9" fill="none" stroke="#F8766D" stroke-width="0.75"/>
<path d="M59.4,41.1H59.4V47.8H60.8V48.4H62.2H63.9V50.1H65.6H66.43V52.05H68.08V54H68.9H72.25V55.6H75.6H77.3V57.9H79H80.4V59.85H83.2V61.8H84.6H87.2V63.6H89.8H90.78V65.2H92.72V66.8H93.7H96V68.75H100.6V70.7H102.9H108.1V72.7H113.3H117.85V74.6H122.4H124.35V75.9H126.3H130.9V76.6H135.5H140.7V77.2H145.9H152V78.1H158.1H163.95V79.1H169.8H193.3V79.7H200.2V81.1H250.1V81.1" fill="none" stroke="#00BFC4" stroke-width="1.4"/>
<path d="M63.3,47.2V49.6M67.8,50.85V53.25M72.3,54.4V56.8M76.8,54.4V56.8M81.3,58.65V61.05M85.8,60.6V63M90.3,62.4V64.8M94.8,65.6V68M99.3,67.55V69.95M103.8,69.5V71.9M108.3,71.5V73.9M112.8,71.5V73.9M118.3,73.4V75.8M120.9,73.4V75.8M123.5,73.4V75.8M126.1,74.7V77.1M128.7,74.7V77.1M131.3,75.4V77.8M133.9,75.4V77.8M136.5,75.4V77.8M139.1,75.4V77.8M141.7,76V78.4M144.3,76V78.4M146.9,76V78.4M149.5,76V78.4M152.1,76.9V79.3M154.7,76.9V79.3M157.3,76.9V79.3M159.9,76.9V79.3M162.5,76.9V79.3M165.1,77.9V80.3M167.7,77.9V80.3M170.3,77.9V80.3M172.9,77.9V80.3M175.5,77.9V80.3M178.1,77.9V80.3M180.7,77.9V80.3M183.3,77.9V80.3M185.9,77.9V80.3M188.5,77.9V80.3M191.1,77.9V80.3M193.7,78.5V80.9M196.3,78.5V80.9M198.9,78.5V80.9M201.5,79.9V82.3M204.1,79.9V82.3M206.7,79.9V82.3M209.3,79.9V82.3M211.9,79.9V82.3M214.5,79.9V82.3M217.1,79.9V82.3M219.7,79.9V82.3M222.3,79.9V82.3M224.9,79.9V82.3M227.5,79.9V82.3M230.1,79.9V82.3M232.7,79.9V82.3M235.3,79.9V82.3M237.9,79.9V82.3M240.5,79.9V82.3M243.1,79.9V82.3M245.7,79.9V82.3M248.3,79.9V82.3" fill="none" stroke="#00BFC4" stroke-width="0.75"/>
<text x="50.7" y="209.8" font-size="8.2" fill="#111" stroke="#111" letter-spacing="0.11">Number at risk</text>
<line x1="50.6" y1="213.2" x2="50.6" y2="243.5" stroke="#707070" stroke-width="1.1"/>
<line x1="50.2" y1="243.1" x2="250" y2="243.1" stroke="#707070" stroke-width="1.1"/>
<line x1="48.8" y1="221.2" x2="50.6" y2="221.2" stroke="#777" stroke-width="0.8"/>
<line x1="48.8" y1="234.9" x2="50.6" y2="234.9" stroke="#777" stroke-width="0.8"/>
<text x="48.4" y="224.4" font-size="8.3" fill="#F8766D" stroke="#F8766D" style="stroke-width:0.22" text-anchor="end">Mutation</text>
<text x="48.4" y="238.1" font-size="8.4" fill="#00BFC4" stroke="#00BFC4" style="stroke-width:0.22" text-anchor="end">Wild</text>
<text x="59.6" y="224.4" font-size="8.5" fill="#111" stroke="#111" text-anchor="middle">197</text>
<text x="59.6" y="238.1" font-size="8.5" fill="#111" stroke="#111" text-anchor="middle">300</text>
<text x="59.6" y="252" font-size="8.9" fill="#555" stroke="#555" text-anchor="middle" textLength="4.39" lengthAdjust="spacingAndGlyphs">0</text>
<text x="104.95" y="224.4" font-size="8.5" fill="#111" stroke="#111" text-anchor="middle">117</text>
<text x="104.95" y="238.1" font-size="8.5" fill="#111" stroke="#111" text-anchor="middle">203</text>
<text x="104.95" y="252" font-size="8.9" fill="#555" stroke="#555" text-anchor="middle" textLength="8.78" lengthAdjust="spacingAndGlyphs">25</text>
<text x="150.3" y="224.4" font-size="8.5" fill="#111" stroke="#111" text-anchor="middle">78</text>
<text x="150.3" y="238.1" font-size="8.5" fill="#111" stroke="#111" text-anchor="middle">149</text>
<text x="150.3" y="252" font-size="8.9" fill="#555" stroke="#555" text-anchor="middle" textLength="8.78" lengthAdjust="spacingAndGlyphs">50</text>
<text x="195.65" y="224.4" font-size="8.5" fill="#111" stroke="#111" text-anchor="middle">44</text>
<text x="195.65" y="238.1" font-size="8.5" fill="#111" stroke="#111" text-anchor="middle">86</text>
<text x="195.65" y="252" font-size="8.9" fill="#555" stroke="#555" text-anchor="middle" textLength="8.78" lengthAdjust="spacingAndGlyphs">75</text>
<text x="241" y="224.4" font-size="8.5" fill="#111" stroke="#111" text-anchor="middle">15</text>
<text x="241" y="238.1" font-size="8.5" fill="#111" stroke="#111" text-anchor="middle">31</text>
<text x="241" y="252" font-size="8.9" fill="#555" stroke="#555" text-anchor="middle" textLength="13.18" lengthAdjust="spacingAndGlyphs">100</text>
<text x="150.3" y="259.8" font-size="8.2" fill="#111" stroke="#111" text-anchor="middle">Months</text>
<text transform="translate(15.2,227.6) rotate(-90)" font-size="8.5" fill="#111" stroke="#111" text-anchor="middle">Group</text>
</g>
</svg>
</body></html>
